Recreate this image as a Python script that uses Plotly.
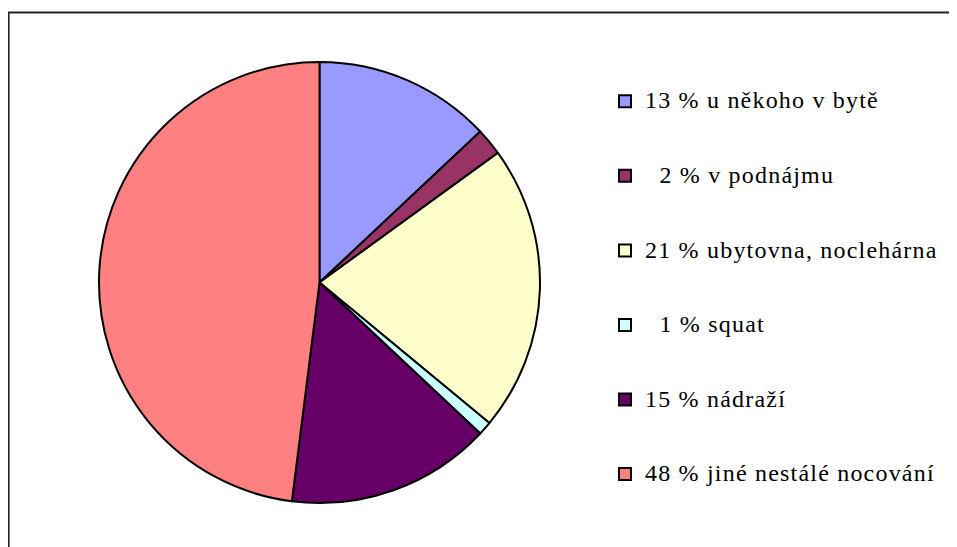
import plotly.graph_objects as go

labels = ["13 % u někoho v bytě", "\u00a0\u00a02 % v podnájmu", "21 % ubytovna, noclehárna",
          "\u00a0\u00a01 % squat", "15 % nádraží", "48 % jiné nestálé nocování"]
values = [13, 2, 21, 1, 15, 48]
colors = ["#9999FF", "#993366", "#FFFFCC", "#CCFFFF", "#660066", "#FF8080"]

# the page body has an 8px margin, so the figure sits 8px in from the window edge
W, H = 949, 539
SERIF = "Liberation Serif"
# blank lines above/below each label give the tall legend rows of the original
legend_labels = [
    " <br><span style=\"font-family:Liberation Serif;font-size:24px;letter-spacing:1.2px\">%s</span><br> " % l
    for l in labels
]

fig = go.Figure(go.Pie(
    labels=legend_labels, values=values, sort=False, direction="clockwise", rotation=0,
    marker=dict(colors=colors, line=dict(color="black", width=2)),
    textinfo="none", hoverinfo="none",
    domain=dict(x=[89.5 / W, 533.5 / W], y=[44 / H, 1 - 54 / H]),
))

# outer chart border (right and bottom edges fall outside the window)
fig.add_shape(type="rect", xref="paper", yref="paper",
              x0=0.6 / W, x1=1.05, y0=-0.05, y1=1 - 4.5 / H,
              line=dict(color="#222222", width=2), fillcolor="rgba(0,0,0,0)")

fig.update_layout(
    width=W, height=H, margin=dict(l=0, r=0, t=0, b=0),
    paper_bgcolor="white", plot_bgcolor="white",
    font=dict(family=SERIF, color="black"),
    showlegend=True,
    legend=dict(
        x=597 / W, xanchor="left", y=1 - 51 / H, yanchor="top",
        font=dict(family=SERIF, size=18.35, color="black"),
        valign="middle", bgcolor="rgba(0,0,0,0)", itemclick=False, itemdoubleclick=False,
    ),
)
fig.write_html("out.html")
